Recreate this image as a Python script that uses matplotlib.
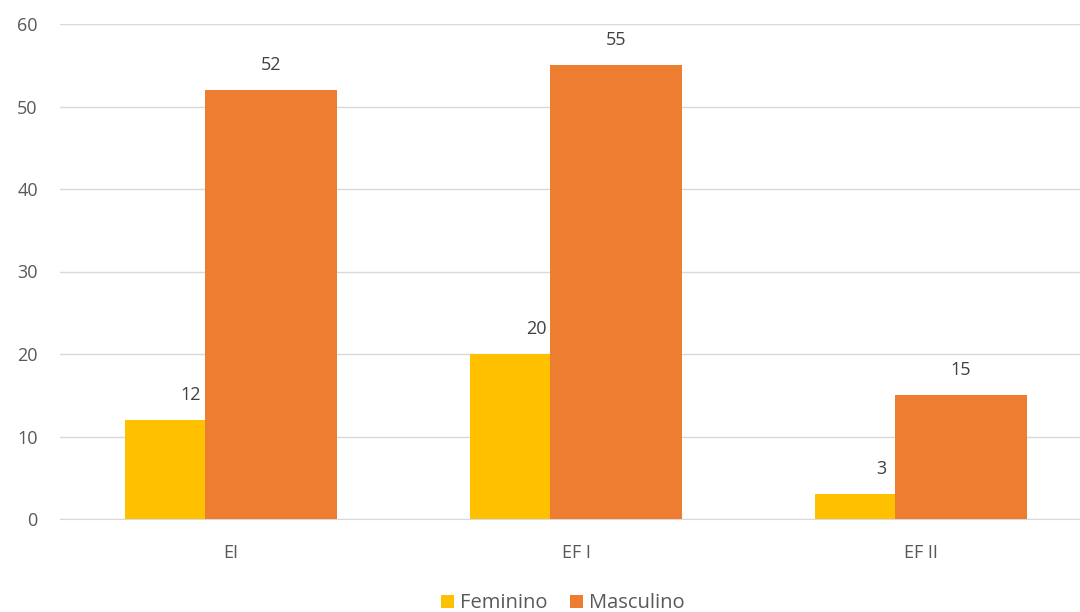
import numpy as np
import matplotlib.pyplot as plt

categories = ["EI", "EF I", "EF II"]
feminino = [12, 20, 3]
masculino = [52, 55, 15]

plt.rcParams['font.family'] = ['Open Sans', 'DejaVu Sans']
text_color = "#595959"

fig = plt.figure(figsize=(10.8, 6.12), dpi=100)
ax = fig.add_axes([60 / 1080, 1 - 519 / 612, 1020 / 1080, 495 / 612])

x = np.arange(len(categories))
width = 0.383
offset = 0.116

bars_f = ax.bar(x - offset, feminino, width, color="#FFC000", label="Feminino", zorder=2)
bars_m = ax.bar(x + offset, masculino, width, color="#ED7D31", label="Masculino", zorder=3)

for bars in (bars_f, bars_m):
    for b in bars:
        ax.text(b.get_x() + b.get_width() / 2, b.get_height() + 2.0, f"{int(b.get_height())}",
                ha="center", va="bottom", fontsize=13, color="#404040", zorder=4)

ax.set_xlim(-0.496, 2.461)
ax.set_ylim(0, 60)
ax.set_yticks(range(0, 61, 10))
ax.set_xticks(x)
ax.set_xticklabels(categories)
ax.tick_params(axis="both", length=0, labelsize=13, colors=text_color)
ax.tick_params(axis="x", pad=18)
ax.tick_params(axis="y", pad=16)

ax.grid(axis="y", color="#D9D9D9", linewidth=1, zorder=0)
ax.set_axisbelow(True)
for s in ("top", "right", "left"):
    ax.spines[s].set_visible(False)
ax.spines["bottom"].set_color("#D9D9D9")

fig.legend(handles=[bars_f, bars_m], loc="lower center", bbox_to_anchor=(0.521, -0.032),
           ncol=2, frameon=False, fontsize=14.5, handlelength=0.65, handleheight=0.65,
           handletextpad=0.3, columnspacing=1.1, labelcolor=text_color)

fig.savefig("out.png", dpi=100)
